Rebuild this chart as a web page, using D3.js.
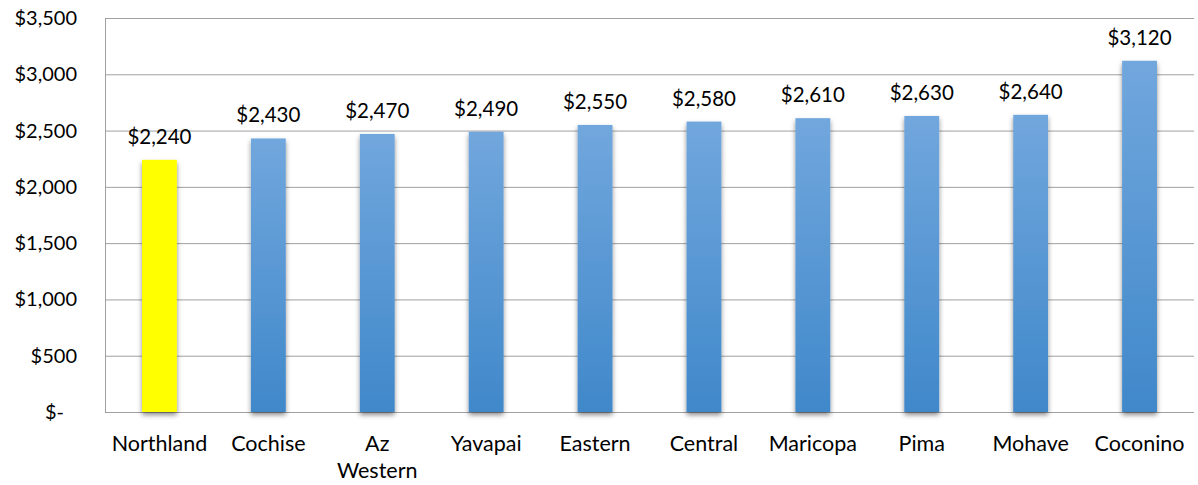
<!DOCTYPE html>
<html>
<head>
<meta charset="utf-8">
<script src="https://cdn.jsdelivr.net/npm/d3@7"></script>
<style>
  body { margin: 0; background: #fff; }
  text { font-family: Lato, 'Open Sans', sans-serif; fill: #000; }
</style>
</head>
<body>
<svg id="chart"></svg>
<script>
const categories = ['Northland', 'Cochise', 'Az Western', 'Yavapai', 'Eastern', 'Central', 'Maricopa', 'Pima', 'Mohave', 'Coconino']
const values = [2240, 2430, 2470, 2490, 2550, 2580, 2610, 2630, 2640, 3120]
const highlight = ['Northland']
const yTicks = [0, 500, 1000, 1500, 2000, 2500, 3000, 3500]

const width = 1198
const height = 485
const margin = { top: 18, right: 4, bottom: 73, left: 105 }

const svg = d3.select('#chart')
  .attr('width', width)
  .attr('height', height)

const defs = svg.append('defs')
const grad = defs.append('linearGradient')
  .attr('id', 'blue')
  .attr('x1', 0).attr('y1', 0).attr('x2', 0).attr('y2', 1)
grad.append('stop').attr('offset', '0%').attr('stop-color', '#71a7dd')
grad.append('stop').attr('offset', '100%').attr('stop-color', '#4088ca')

const shadow = defs.append('filter')
  .attr('id', 'shadow')
  .attr('x', '-30%').attr('y', '-10%').attr('width', '160%').attr('height', '130%')
shadow.append('feDropShadow')
  .attr('dx', 0).attr('dy', 3)
  .attr('stdDeviation', 2.5)
  .attr('flood-color', '#000')
  .attr('flood-opacity', 0.45)

const x = d3.scaleBand()
  .domain(categories)
  .range([margin.left, width - margin.right])
  .paddingInner(0.68)
  .paddingOuter(0.34)

const y = d3.scaleLinear()
  .domain([0, 3500])
  .range([height - margin.bottom, margin.top])

// gridlines
svg.append('g')
  .selectAll('line')
  .data(yTicks)
  .enter().append('line')
  .attr('x1', margin.left)
  .attr('x2', width - margin.right)
  .attr('y1', d => y(d) + 0.5)
  .attr('y2', d => y(d) + 0.5)
  .attr('stroke', '#a0a0a0')
  .attr('stroke-width', 1)

// left axis
svg.append('line')
  .attr('x1', margin.left + 0.5).attr('x2', margin.left + 0.5)
  .attr('y1', y(3500)).attr('y2', y(0))
  .attr('stroke', '#a0a0a0')

const fmt = d => d === 0 ? '$-' : '$' + d3.format(',')(d)

svg.append('g')
  .selectAll('text')
  .data(yTicks)
  .enter().append('text')
  .attr('x', d => d === 0 ? 64 : 77)
  .attr('y', d => y(d) + 7)
  .attr('text-anchor', 'end')
  .attr('font-size', 20)
  .text(fmt)

// bars
svg.append('g')
  .selectAll('rect')
  .data(values)
  .enter().append('rect')
  .attr('x', (d, i) => x(categories[i]))
  .attr('width', x.bandwidth())
  .attr('y', d => y(d))
  .attr('height', d => y(0) - y(d))
  .attr('fill', (d, i) => highlight.includes(categories[i]) ? '#ffff00' : 'url(#blue)')
  .attr('filter', 'url(#shadow)')

// value labels
svg.append('g')
  .selectAll('text')
  .data(values)
  .enter().append('text')
  .attr('x', (d, i) => x(categories[i]) + x.bandwidth() / 2)
  .attr('y', d => y(d) - 16)
  .attr('text-anchor', 'middle')
  .attr('font-size', 20.5)
  .text(d => '$' + d3.format(',')(d))

// category labels
const cats = svg.append('g')
  .selectAll('text')
  .data(categories)
  .enter().append('text')
  .attr('x', d => x(d) + x.bandwidth() / 2)
  .attr('y', 451)
  .attr('text-anchor', 'middle')
  .attr('font-size', 21.5)

cats.each(function (d) {
  const words = d === 'Az Western' ? ['Az', 'Western'] : [d]
  d3.select(this).selectAll('tspan')
    .data(words)
    .enter().append('tspan')
    .attr('x', x(d) + x.bandwidth() / 2)
    .attr('dy', (w, i) => i === 0 ? 0 : 27)
    .text(w => w)
})
</script>
</body>
</html>
